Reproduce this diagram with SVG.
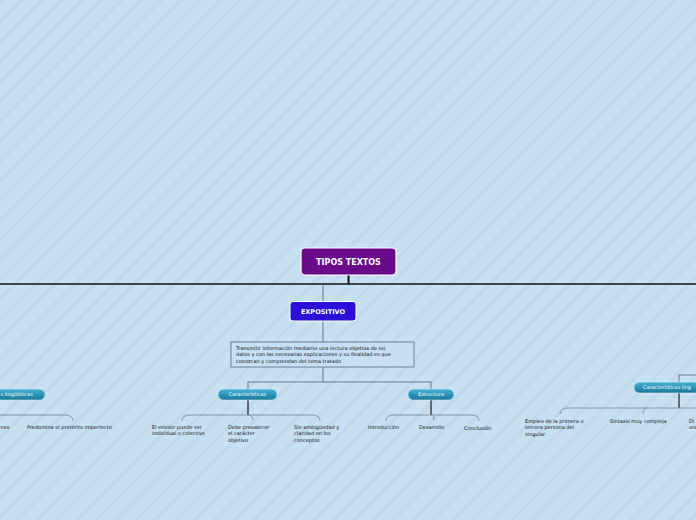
<svg xmlns="http://www.w3.org/2000/svg" width="696" height="520" viewBox="0 0 696 520">
<defs>
<pattern id="stripes" width="14" height="14" patternUnits="userSpaceOnUse" patternTransform="rotate(45)">
<rect width="14" height="14" fill="#c7e0f2"/>
<rect width="3.5" height="14" fill="#c0d9ed"/>
</pattern>
<linearGradient id="pill" x1="0" y1="0" x2="0" y2="1">
<stop offset="0" stop-color="#4db3d3"/>
<stop offset="0.5" stop-color="#2b95b9"/>
<stop offset="1" stop-color="#1c7696"/>
</linearGradient>
</defs>
<style>
.t{font-family:"DejaVu Sans","Liberation Sans",sans-serif;font-size:5px;fill:#111}
.pt{font-family:"DejaVu Sans","Liberation Sans",sans-serif;font-size:5px;fill:#fff}
.pill{fill:url(#pill);stroke:#d8eef7;stroke-width:0.6}
.dark{stroke:#2a2a2a;stroke-width:1.3;fill:none}
.grey{stroke:#6f7f8f;stroke-width:1.1;fill:none}
.br{stroke:#7d8c9a;stroke-width:0.9;fill:none}
</style>
<rect width="696" height="520" fill="url(#stripes)"/>
<g id="connectors">
<line x1="348.5" y1="275" x2="348.5" y2="284" stroke="#111" stroke-width="2"/>
<line x1="0" y1="284" x2="696" y2="284" stroke="#111" stroke-width="1.4"/>
<line x1="323" y1="284.5" x2="323" y2="301" class="grey"/>
<line x1="323" y1="321" x2="323" y2="342" class="grey"/>
<line x1="323" y1="367" x2="323" y2="382" class="grey"/>
<path d="M248 389 V382 H431 V389" class="grey"/>
<line x1="248" y1="400" x2="248" y2="415" class="dark"/>
<path d="M182 421 Q182 415 190 415 H312 Q320 415 320 421" class="br"/>
<path d="M248 415 Q253 415 253 420" class="br"/>
<line x1="431" y1="400" x2="431" y2="415" class="dark"/>
<path d="M386 421 Q386 415 394 415 H471 Q479 415 479 421" class="br"/>
<path d="M431 415 Q434 415 434 420" class="br"/>
<path d="M0 415 H65 Q73 415 73 421" class="br"/>
<path d="M696 375 H679 V382" class="grey"/>
<line x1="679" y1="393" x2="679" y2="408" class="dark"/>
<path d="M560 414 Q560 408 568 408 H696" class="br"/>
<path d="M643 414 Q643 408 648 408" class="br"/>
</g>
<g id="tipos-textos">
<rect x="301" y="248" width="95" height="27" rx="4" fill="#6a0a8b" stroke="#ffffff" stroke-width="1.2"/>
<text x="348.5" y="265" text-anchor="middle" font-family="DejaVu Sans,Liberation Sans,sans-serif" font-size="8" font-weight="bold" fill="#fff">TIPOS TEXTOS</text>
</g>
<g id="expositivo">
<rect x="290" y="301.5" width="66" height="19.5" rx="3" fill="#2b0fd8" stroke="#ffffff" stroke-width="1"/>
<text x="323" y="314" text-anchor="middle" font-family="DejaVu Sans,Liberation Sans,sans-serif" font-size="6.5" font-weight="bold" fill="#fff">EXPOSITIVO</text>
</g>
<g id="descripcion">
<rect x="231" y="342" width="183" height="25" fill="#c6dff2" stroke="#6f7f8f" stroke-width="1"/>
<text class="t" x="236" y="349.5">Transmitir información mediante una lectura objetiva de los</text>
<text class="t" x="236" y="356">datos y con las necesarias explicaciones y su finalidad es que</text>
<text class="t" x="236" y="362.5">conozcan y comprendan del tema tratado</text>
</g>
<g id="caracteristicas">
<rect class="pill" x="218" y="389" width="59" height="11" rx="5.5"/>
<text class="pt" x="247.5" y="396.3" text-anchor="middle">Características</text>
</g>
<g id="estructura">
<rect class="pill" x="408" y="389" width="46" height="11" rx="5.5"/>
<text class="pt" x="431" y="396.3" text-anchor="middle">Estructura</text>
</g>
<g id="caract-ling-izq">
<rect class="pill" x="-50" y="389" width="95" height="11" rx="5.5"/>
<text class="pt" x="0.5" y="396.3">s lingüísticas</text>
</g>
<g id="caract-ling-der">
<rect class="pill" x="634" y="382" width="95" height="11" rx="5.5"/>
<text class="pt" x="643" y="389.3">Características ling</text>
</g>
<g id="emisor"><text class="t" x="152" y="428.5">El emisor puede ser</text><text class="t" x="152" y="435">individual o colectivo</text></g>
<g id="prevalecer"><text class="t" x="228" y="428.5">Debe prevalecer</text><text class="t" x="228" y="435">el carácter</text><text class="t" x="228" y="441.5">objetivo</text></g>
<g id="ambiguedad"><text class="t" x="294" y="428.5">Sin ambigüedad y</text><text class="t" x="294" y="435">claridad en los</text><text class="t" x="294" y="441.5">conceptos</text></g>
<g id="introduccion"><text class="t" x="368" y="428.5">Introducción</text></g>
<g id="desarrollo"><text class="t" x="419" y="428.5">Desarrollo</text></g>
<g id="conclusion"><text class="t" x="464" y="429.5">Conclusión</text></g>
<g id="nes"><text class="t" x="0.5" y="428.5">nes</text></g>
<g id="preterito"><text class="t" x="27" y="428.5">Predomina el pretérito imperfecto</text></g>
<g id="empleo"><text class="t" x="525" y="422.5">Empleo de la primera o</text><text class="t" x="525" y="429">tercera persona del</text><text class="t" x="525" y="435.5">singular</text></g>
<g id="sintaxis"><text class="t" x="610" y="422.5">Sintaxis muy compleja</text></g>
<g id="di"><text class="t" x="689" y="422.5">Di</text><text class="t" x="689" y="429">ora</text></g>
</svg>
